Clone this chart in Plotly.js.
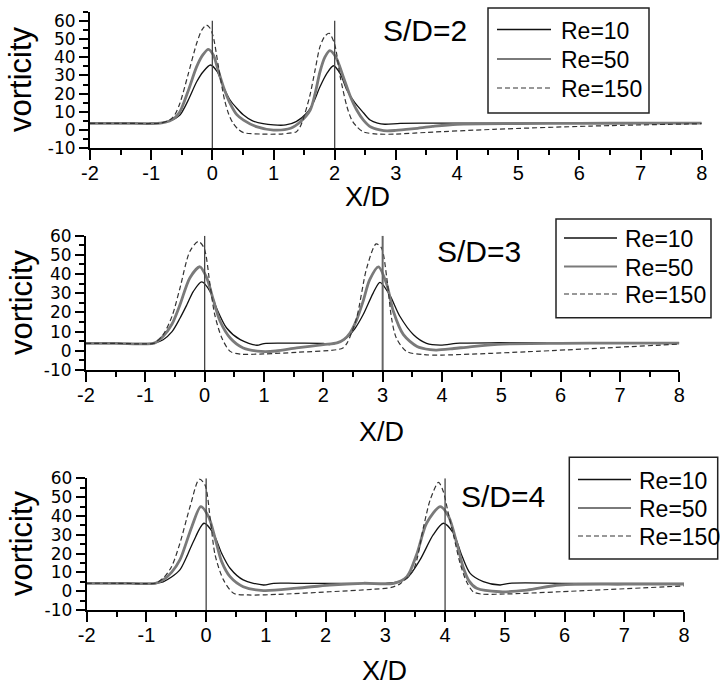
<!DOCTYPE html>
<html><head><meta charset="utf-8">
<script src="https://cdn.plot.ly/plotly-3.0.1.min.js"></script>
<style>html,body{margin:0;padding:0;background:#fff}#chart{width:720px;height:688px}</style>
</head><body><div id="chart"></div>
<script>
// ---------- data ----------
const reLabels = ['Re=10', 'Re=50', 'Re=150'];
const spacings = [2, 3, 4];   // S/D of each panel
const xTickVals = [-2, -1, 0, 1, 2, 3, 4, 5, 6, 7, 8];
const xTickText = ['-2', '-1', '0', '1', '2', '3', '4', '5', '6', '7', '8'];
const yTickVals = [-10, 0, 10, 20, 30, 40, 50, 60];
const yTickText = ['-10', '0', '10', '20', '30', '40', '50', '60'];

// Panel 1 (S/D=2)
const p1_re10_x = [-2,-1.5,-1.0,-0.85,-0.7,-0.53,-0.4,-0.256,-0.15,-0.03,0.08,0.18,0.29,0.4,0.51,0.65,0.83,1.0,1.2,1.37,1.54,1.65,1.76,1.87,1.98,2.09,2.2,2.33,2.47,2.58,2.7,2.82,3.07,3.5,4,5,6,7,8];
const p1_re10_y = [3.7,3.7,3.6,3.8,5,8.3,16,26.5,32,35.7,32,23.8,16.5,12,8.3,5.2,3.5,2.8,2.8,4.6,9.2,15,23.8,31,35.3,31,22,15,9.5,5.5,3.8,3.2,3.7,3.8,3.8,3.8,3.8,3.8,3.8];
const p1_re50_x = [-2,-1.5,-1.0,-0.85,-0.7,-0.62,-0.53,-0.4,-0.256,-0.15,-0.066,0.02,0.07,0.18,0.29,0.4,0.51,0.72,1.0,1.28,1.44,1.6,1.68,1.76,1.84,1.92,2.02,2.14,2.25,2.36,2.47,2.6,2.8,3.0,3.3,3.6,4.0,5,6,7,8];
const p1_re50_y = [3.7,3.7,3.6,3.8,5,6.5,10.1,21,34.8,41.5,44.3,41,35.7,23.8,14.7,8.5,5.5,1.9,0.0,1.0,4.6,11,20,32,40,43.6,40,29.3,19,11,5.5,1.5,-0.3,-0.2,0.8,2.0,3.2,3.6,3.7,3.8,3.8];
const p1_re150_x = [-2,-1.5,-1.0,-0.85,-0.7,-0.62,-0.53,-0.4,-0.256,-0.17,-0.1,-0.04,0.015,0.1,0.2,0.27,0.34,0.42,0.51,0.8,1.1,1.3,1.37,1.43,1.48,1.59,1.68,1.76,1.84,1.91,2.0,2.09,2.2,2.28,2.36,2.47,2.7,3.0,3.5,4.6,6.2,8];
const p1_re150_y = [3.7,3.7,3.6,3.8,5.5,8,14.7,30,47.6,55,57.6,56,51.2,34.8,16.5,8.5,3.7,0.5,-1.4,-2.2,-2.2,-1.5,-1,1.5,5.5,18.3,33,45.8,51.5,53.1,47,29.3,12.9,5.5,1.9,-1,-2.2,-2.2,-1.3,0.4,2.2,3.5];

// Panel 2 (S/D=3)
const p2_re10_x = [-2,-1.5,-1.0,-0.85,-0.7,-0.55,-0.416,-0.3,-0.19,-0.05,0.09,0.2,0.37,0.6,0.88,1.0,1.3,1.6,2.0,2.1,2.25,2.39,2.53,2.67,2.84,2.955,3.12,3.29,3.52,3.74,3.97,4.3,5,6,7,8];
const p2_re10_y = [3.9,3.9,3.6,4.0,5.8,10,17,24,31,35.9,31,22.3,11.9,5.8,2.9,3.8,4.0,4.0,3.8,3.3,4.2,6.7,11.5,18.8,30.1,35.7,29,18,8.4,3.9,3.0,4.0,4.2,4.2,4.2,4.2];
const p2_re50_x = [-2,-1.5,-1.0,-0.85,-0.7,-0.55,-0.416,-0.25,-0.08,0.035,0.146,0.26,0.43,0.65,0.95,1.2,1.55,2.0,2.23,2.35,2.45,2.56,2.67,2.78,2.93,3.07,3.18,3.35,3.58,3.8,3.91,4.2,4.47,5.03,6,7,8];
const p2_re50_y = [3.9,3.9,3.6,4.0,7.6,14,24,38,43.8,38,26.6,15.4,6.7,1.5,-0.3,-0.1,1.5,3.2,4.1,6,9.3,16,25.8,37,43.8,34.5,20.6,8.4,2.3,0.6,0.4,1.2,2.1,3.5,3.9,4.0,4.0];
const p2_re150_x = [-2,-1.5,-1.0,-0.85,-0.7,-0.55,-0.416,-0.25,-0.107,-0.01,0.09,0.17,0.29,0.43,0.6,1.0,1.55,2.23,2.33,2.4,2.56,2.73,2.89,2.98,3.07,3.15,3.23,3.4,3.69,4.0,5.43,8];
const p2_re150_y = [3.9,3.9,3.6,4.0,8.4,18,32.7,51.8,57,53.6,34.5,18.8,6.7,-0.3,-1.7,-1.6,-0.8,0.6,1.5,4,17,43,55.7,53.6,38,17,6.7,-0.3,-2,-2.2,-0.5,3.5];

// Panel 3 (S/D=4)
const p3_re10_x = [-2,-1.5,-1.0,-0.85,-0.72,-0.58,-0.44,-0.33,-0.215,-0.036,0.12,0.26,0.4,0.62,0.96,1.13,1.5,2,2.5,3.0,3.14,3.36,3.58,3.8,3.97,4.14,4.28,4.42,4.64,4.92,5.08,6,7,8];
const p3_re10_y = [4.2,4.2,4.0,4.2,5,7.5,11.3,18,26.3,36.1,30.8,20.1,12.2,6,3.3,4.2,4.2,4.2,4.2,4.2,4.5,6.9,16.6,29.9,36.1,30.8,19,9.5,5.1,3.3,4.2,4.2,4.2,4.2];
const p3_re50_x = [-2,-1.5,-1.0,-0.85,-0.72,-0.58,-0.44,-0.24,-0.09,0.04,0.15,0.26,0.4,0.62,0.96,1.52,2.07,2.63,3.14,3.36,3.53,3.69,3.92,4.06,4.2,4.3,4.4,4.53,4.92,5.37,5.92,7,8];
const p3_re50_y = [4.2,4.2,4.0,4.2,6,10,16.6,34.3,44.9,39.6,28.1,15.7,7.7,2.4,0.3,1.6,3.3,4.2,4.2,7.7,20.1,36.1,44.9,39.6,25,13,5.5,1.5,-0.3,0.6,3.3,3.7,3.8];
const p3_re150_x = [-2,-1.5,-1.0,-0.85,-0.72,-0.58,-0.44,-0.27,-0.115,-0.02,0.07,0.15,0.29,0.46,0.7,1.2,2.07,2.8,3.1,3.25,3.47,3.64,3.75,3.89,3.97,4.05,4.14,4.25,4.36,4.47,4.6,5.0,5.92,8];
const p3_re150_y = [4.2,4.2,4.0,4.2,6.9,13,25.4,44.9,59.5,56.5,38,19.2,6,-1.1,-2,-1.7,-0.3,1.0,2.0,4.0,11.3,34.3,48.5,57.8,53,42,30,15,5,-0.3,-1.5,-1.5,-0.3,2.8];

// ---------- build ----------
const FONT = 'Liberation Sans, Arial, sans-serif';
const YFONT = 'DejaVu Sans, Liberation Sans, sans-serif';
const panels = [
  {xs:[p1_re10_x,p1_re50_x,p1_re150_x], ys:[p1_re10_y,p1_re50_y,p1_re150_y]},
  {xs:[p2_re10_x,p2_re50_x,p2_re150_x], ys:[p2_re10_y,p2_re50_y,p2_re150_y]},
  {xs:[p3_re10_x,p3_re50_x,p3_re150_x], ys:[p3_re10_y,p3_re50_y,p3_re150_y]}
];
const styles = [
  {color:'#111111', width:1.3, dash:'solid'},
  {color:'#7a7a7a', width:2.8, dash:'solid'},
  {color:'#333333', width:1.2, dash:'5px,3px'}
];
const traces = [];
panels.forEach((p, i) => {
  const sfx = i === 0 ? '' : String(i + 1);
  for (let k = 0; k < 3; k++) {
    traces.push({
      type:'scatter', mode:'lines', x:p.xs[k], y:p.ys[k], name:reLabels[k],
      xaxis:'x' + sfx, yaxis:'y' + sfx, showlegend:false,
      line:{color:styles[k].color, width:styles[k].width, dash:styles[k].dash, shape:'spline', smoothing:0.8},
      hoverinfo:'skip'
    });
  }
});

const W = 720, H = 688;
const px = v => v / W, py = v => 1 - v / H;
// plot-area edges in pixels [left, right, top, bottom]
const boxes = [[90, 701.7, 11.6, 148.3], [86, 679.3, 235.7, 370], [86.7, 684, 478.3, 610]];
const yRanges = [[-10, 65], [-10, 60], [-10, 60]];

function xAxis(i) {
  const b = boxes[i];
  return {domain:[px(b[0]), px(b[1])], anchor:'y' + (i ? i + 1 : ''), range:[-2, 8],
    tickmode:'array', tickvals:xTickVals, ticktext:xTickText,
    showline:true, linecolor:'#000', linewidth:2, ticks:'outside', ticklen:10, tickwidth:2, tickcolor:'#000',
    minor:{tickmode:'linear', ticks:'outside', ticklen:5, tickwidth:2, tickcolor:'#000', dtick:0.5, tick0:0, showgrid:false},
    showgrid:false, zeroline:false, ticklabelstandoff:-4,
    tickfont:{family:FONT, size:20, color:'#000'}, fixedrange:true};
}
function yAxis(i) {
  const b = boxes[i];
  return {domain:[py(b[3]), py(b[2])], anchor:'x' + (i ? i + 1 : ''), range:yRanges[i],
    tickmode:'array', tickvals:yTickVals, ticktext:yTickText,
    showline:true, linecolor:'#000', linewidth:2, ticks:'outside', ticklen:9, tickwidth:2, tickcolor:'#000',
    minor:{tickmode:'linear', ticks:'outside', ticklen:5, tickwidth:2, tickcolor:'#000', dtick:5, tick0:0, showgrid:false},
    showgrid:false, zeroline:false,
    tickfont:{family:YFONT, size:17, color:'#000'}, fixedrange:true};
}

// vertical reference lines at X/D = 0 and X/D = S/D
const shapes = [];
spacings.forEach((s, i) => {
  const sfx = i === 0 ? '' : String(i + 1);
  [0, s].forEach(xv => {
    shapes.push({type:'line', xref:'x' + sfx, yref:'y' + sfx, x0:xv, x1:xv, y0:-10, y1:60,
      line:{color: (i === 1 && xv === s) ? '#666' : '#444', width: (i === 1 && xv === s) ? 2 : 1.3}});
  });
});

const annotations = [];
const sdPos = [[425, 31], [479, 251], [503, 497]];
const xdPos = [[367, 197], [381, 432], [384, 671]];
const vortY = [79, 302, 543];
spacings.forEach((s, i) => {
  annotations.push({xref:'paper', yref:'paper', x:px(sdPos[i][0]), y:py(sdPos[i][1]), xanchor:'center', yanchor:'middle',
    text:'S/D=' + s, showarrow:false, font:{family:FONT, size:30, color:'#000'}});
  annotations.push({xref:'paper', yref:'paper', x:px(xdPos[i][0]), y:py(xdPos[i][1]), xanchor:'center', yanchor:'middle',
    text:'X/D', showarrow:false, font:{family:FONT, size:27, color:'#000'}});
  annotations.push({xref:'paper', yref:'paper', x:px(21), y:py(vortY[i]), xanchor:'center', yanchor:'middle',
    text:'vorticity', textangle:-90, showarrow:false, font:{family:FONT, size:31, color:'#000'}});
});

// legends: box [left, right, top, bottom], sample line [x0, x1], text left, row centres
const legends = [
  {box:[488, 649, 8, 113], line:[497, 551], textX:559, rows:[29.5, 59, 88]},
  {box:[556, 711, 219, 317.7], line:[564, 617], textX:623, rows:[238, 266.5, 294]},
  {box:[569.3, 717.7, 457.3, 559], line:[578, 631], textX:637, rows:[479.5, 508, 536]}
];
legends.forEach(lg => {
  shapes.push({type:'rect', xref:'paper', yref:'paper', x0:px(lg.box[0]), x1:px(lg.box[1]), y0:py(lg.box[3]), y1:py(lg.box[2]),
    line:{color:'#222', width:1.5}, fillcolor:'rgba(0,0,0,0)'});
  for (let k = 0; k < 3; k++) {
    shapes.push({type:'line', xref:'paper', yref:'paper', x0:px(lg.line[0]), x1:px(lg.line[1]), y0:py(lg.rows[k]), y1:py(lg.rows[k]),
      line:{color:styles[k].color, width:Math.min(styles[k].width, 2.2), dash:styles[k].dash}});
    annotations.push({xref:'paper', yref:'paper', x:px(lg.textX), y:py(lg.rows[k] + 1), xanchor:'left', yanchor:'middle',
      text:reLabels[k], showarrow:false, font:{family:FONT, size:23, color:'#000'}});
  }
});

const layout = {
  width:W, height:H, margin:{l:0, r:0, t:0, b:0}, paper_bgcolor:'#fff', plot_bgcolor:'rgba(0,0,0,0)',
  showlegend:false,
  xaxis:xAxis(0), yaxis:yAxis(0), xaxis2:xAxis(1), yaxis2:yAxis(1), xaxis3:xAxis(2), yaxis3:yAxis(2),
  shapes:shapes, annotations:annotations
};
Plotly.newPlot('chart', traces, layout, {staticPlot:true, displayModeBar:false});
</script></body></html>
